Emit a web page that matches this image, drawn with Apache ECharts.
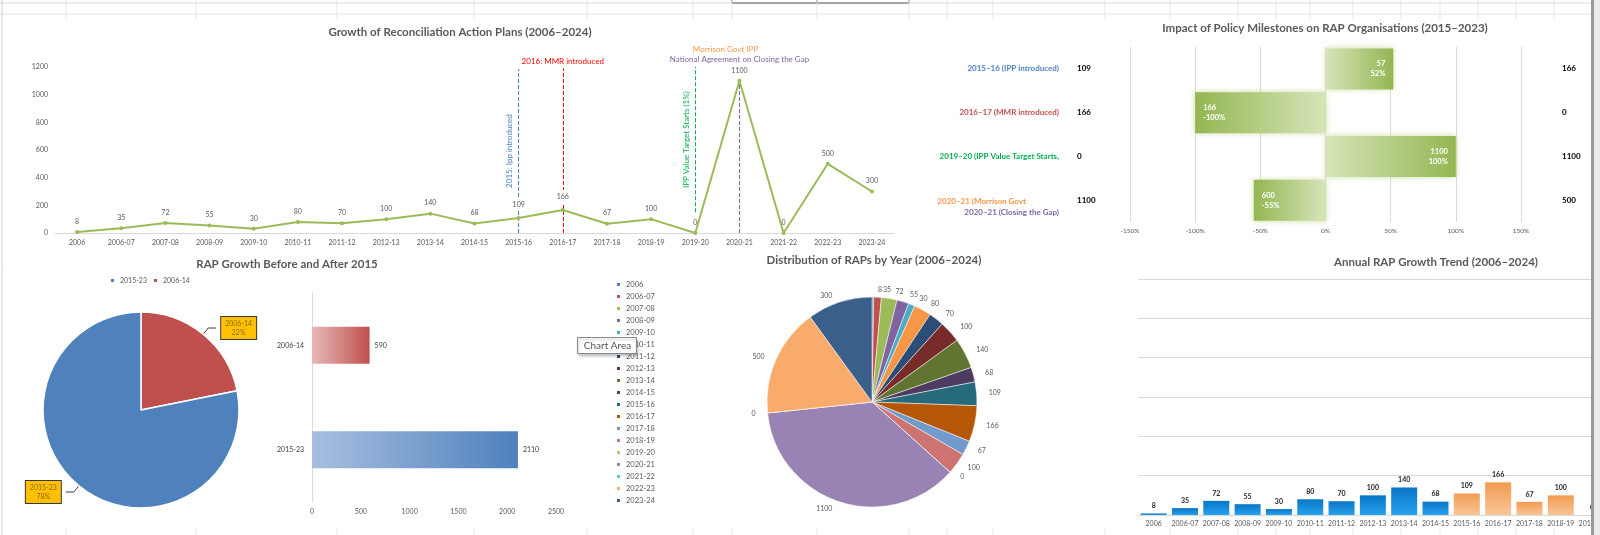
<!DOCTYPE html>
<html>
<head>
<meta charset="utf-8">
<title>RAP dashboard</title>
<script src="https://cdn.jsdelivr.net/npm/echarts@6/dist/echarts.min.js"></script>
<style>
  html, body { margin: 0; width: 1600px; height: 535px; overflow: hidden; background: #fff; }
  .layer { position: absolute; left: 0; top: 0; width: 1600px; height: 535px; }
  #trend { width: 1800px; }
  #scroll { position: absolute; left: 1591px; top: 0; width: 9px; height: 535px; background: #ececec; border-left: 3px solid #9a9a9a; box-sizing: border-box; }
</style>
</head>
<body>
<div id="sheet" class="layer"></div>
<div id="growth" class="layer"></div>
<div id="milestone" class="layer"></div>
<div id="split" class="layer"></div>
<div id="dist" class="layer"></div>
<div id="trend" class="layer"></div>
<div id="scroll"></div>
<script>
// ---- data ----
const years = ['2006','2006-07','2007-08','2008-09','2009-10','2010-11','2011-12','2012-13','2013-14','2014-15',
  '2015-16','2016-17','2017-18','2018-19','2019-20','2020-21','2021-22','2022-23','2023-24'];
const raps = [8,35,72,55,30,80,70,100,140,68,109,166,67,100,0,1100,0,500,300];

const periodNames = ['2006-14','2015-23'];
const periodTotals = [590, 2110];

const milestoneNames = ['2015–16 (IPP introduced)','2016–17 (MMR introduced)','2019–20 (IPP Value Target Starts,',
  '2020–21 (Morrison Govt\n2020–21 (Closing the Gap)'];
const rapsBefore = [109, 166, 0, 1100];
const rapsAfter = [166, 0, 1100, 500];
const rapsChange = [57, 166, 1100, 600];
const changePct = [52, -100, 100, -55];

const FONT = 'Lato, "Open Sans", sans-serif';
const GREY = '#595959';
const yearColors = ['#4F81BD','#C0504D','#9BBB59','#8064A2','#4BACC6','#F79646','#2C4D75','#772C2A','#5F7530',
  '#4D3B62','#276A7C','#B65708','#729ACA','#CD7371','#AFC97A','#9983B5','#6FBDD1','#F9AB6B','#3A5F8B'];

function plain(v) { return String(v); }

function titleOf(text, x, y) {
  return { text: text, left: x, top: y, textAlign: 'center', padding: 0,
    textStyle: { fontSize: 11.5, fontWeight: 'bold', color: GREY, fontFamily: FONT } };
}

// ---- spreadsheet background ----
const sheetCols = [66,196,337,474,587,693,732,817,909,947,993,1105,1170,1238,1276,1310,1353,1401,1440,1478,1516,1554];
const sheetEls = [
  { type: 'line', shape: { x1: 0, y1: 3, x2: 1600, y2: 3 }, style: { stroke: '#DADADA' } },
  { type: 'line', shape: { x1: 0, y1: 14, x2: 1600, y2: 14 }, style: { stroke: '#E3E3E3' } },
  { type: 'line', shape: { x1: 2, y1: 0, x2: 2, y2: 535 }, style: { stroke: '#D0D0D0' } },
  { type: 'rect', shape: { x: 732, y: -2, width: 177, height: 5 }, style: { fill: '#fff', stroke: '#555' } },
  { type: 'line', shape: { x1: 817, y1: 0, x2: 817, y2: 3 }, style: { stroke: '#555' } }
];
sheetCols.forEach(function (x) {
  sheetEls.push({ type: 'line', shape: { x1: x, y1: 0, x2: x, y2: 20 }, style: { stroke: '#E6E6E6' } });
  sheetEls.push({ type: 'line', shape: { x1: x, y1: 529, x2: x, y2: 535 }, style: { stroke: '#E6E6E6' } });
});
echarts.init(document.getElementById('sheet')).setOption({ graphic: sheetEls });

// ---- line chart ----
function vline(year, from, to, color, label) {
  return [
    { coord: [year, from], lineStyle: { color: color, type: 'dashed', width: 1 }, label: label },
    { coord: [year, to] }
  ];
}
// the milestone lines pass behind these two point labels
const maskedLabels = ['2015-16', '2016-17'];
echarts.init(document.getElementById('growth')).setOption({
  textStyle: { fontFamily: FONT },
  title: titleOf('Growth of Reconciliation Action Plans (2006–2024)', 460, 26),
  grid: { left: 55, right: 706, top: 67, bottom: 302, outerBoundsMode: 'none' },
  xAxis: {
    type: 'category', data: years,
    axisTick: { show: false },
    axisLine: { lineStyle: { color: '#D9D9D9' } },
    axisLabel: { interval: 0, fontSize: 7, color: GREY, margin: 6 }
  },
  yAxis: {
    type: 'value', min: 0, max: 1200, interval: 200,
    splitLine: { show: false },
    axisLabel: { fontSize: 7, color: GREY, margin: 7, formatter: plain }
  },
  series: [{
    type: 'line',
    data: raps.map(function (v, i) {
      return maskedLabels.indexOf(years[i]) >= 0
        ? { value: v, label: { backgroundColor: '#fff', padding: [3, 1] } }
        : v;
    }),
    symbol: 'circle', symbolSize: 4,
    lineStyle: { color: '#9BBB59', width: 2 },
    itemStyle: { color: '#9BBB59' },
    label: { show: true, position: 'top', distance: 5, fontSize: 7, color: GREY },
    markLine: {
      symbol: 'none', silent: true, z: 1,
      data: [
        vline('2015-16', 0, 1185, '#4F81BD',
          { show: true, position: 'insideMiddleTop', formatter: '2015: Ipp introduced', color: '#4F81BD', fontSize: 8 }),
        vline('2016-17', 0, 1190, '#FF0000',
          { show: true, position: 'end', formatter: '2016: MMR introduced', color: '#FF0000', fontSize: 8, distance: 3 }),
        vline('2019-20', 150, 1200, '#00B050',
          { show: true, position: 'insideMiddleTop', formatter: 'IPP Value Target Starts (1%)', color: '#00B050', fontSize: 8 }),
        vline('2020-21', 0, 1100, '#8064A2',
          { show: true, position: 'end', distance: 16,
            formatter: '{o|Morrison Govt IPP}{og|}\n{p|National Agreement on Closing the Gap}',
            rich: {
              o: { color: '#F79646', fontSize: 8, lineHeight: 10 },
              og: { width: 28, lineHeight: 10 },
              p: { color: '#8064A2', fontSize: 8, lineHeight: 10 }
            } })
      ]
    }
  }]
});

// ---- policy milestone bars ----
function greenBar(pct) {
  const light = '#D6E5B9', dark = '#94B652';
  const stops = pct >= 0
    ? [{ offset: 0, color: light }, { offset: 1, color: dark }]
    : [{ offset: 0, color: dark }, { offset: 1, color: light }];
  return new echarts.graphic.LinearGradient(0, 0, 1, 0, stops);
}
echarts.init(document.getElementById('milestone')).setOption({
  textStyle: { fontFamily: FONT },
  title: titleOf('Impact of Policy Milestones on RAP Organisations (2015–2023)', 1325, 22),
  grid: { left: 1130, right: 79, top: 47, bottom: 313, outerBoundsMode: 'none' },
  xAxis: {
    type: 'value', min: -150, max: 150, interval: 50,
    axisLine: { show: false },
    splitLine: { lineStyle: { color: '#D9D9D9' } },
    axisLabel: { formatter: '{value}%', fontSize: 6.5, color: GREY, margin: 5 }
  },
  yAxis: [
    {
      type: 'category', data: milestoneNames, inverse: true,
      axisLine: { show: false }, axisTick: { show: false },
      axisLabel: {
        margin: 71,
        formatter: function (v, i) {
          if (i === 3) {
            const parts = v.split('\n');
            return '{sp|}\n{o|' + parts[0] + '}{og|}\n{p|' + parts[1] + '}';
          }
          return '{c' + i + '|' + v + '}';
        },
        rich: {
          c0: { color: '#4F81BD', fontSize: 8, fontWeight: 'bold' },
          c1: { color: '#C0504D', fontSize: 8, fontWeight: 'bold' },
          c2: { color: '#00B050', fontSize: 8, fontWeight: 'bold' },
          sp: { lineHeight: 14, height: 14 },
          o: { color: '#F79646', fontSize: 8, fontWeight: 'bold', lineHeight: 11 },
          og: { width: 33, lineHeight: 11 },
          p: { color: '#8064A2', fontSize: 8, fontWeight: 'bold', lineHeight: 11 }
        }
      }
    },
    {
      type: 'category', data: rapsBefore.map(String), inverse: true, position: 'left',
      axisLine: { show: false }, axisTick: { show: false },
      axisLabel: { align: 'left', margin: 53, fontSize: 8, fontWeight: 'bold', color: '#000' }
    },
    {
      type: 'category', data: rapsAfter.map(String), inverse: true, position: 'right',
      axisLine: { show: false }, axisTick: { show: false },
      axisLabel: { align: 'left', margin: 41, fontSize: 8, fontWeight: 'bold', color: '#000' }
    }
  ],
  series: [{
    type: 'bar', yAxisIndex: 0, barWidth: 41,
    data: changePct.map(function (p) {
      return {
        value: p,
        itemStyle: { color: greenBar(p), shadowBlur: 6, shadowColor: 'rgba(190,215,140,0.8)' },
        label: { position: p >= 0 ? 'insideRight' : 'insideLeft' }
      };
    }),
    label: {
      show: true, distance: 8, color: '#fff', fontSize: 7.5, fontWeight: 'bold', lineHeight: 10,
      formatter: function (p) { return rapsChange[p.dataIndex] + '\n' + p.value + '%'; }
    }
  }]
});

// ---- before / after 2015 ----
const periodColors = { '2006-14': ['#E6B9B8', '#C0504D'], '2015-23': ['#A7BFDF', '#4F81BD'] };
echarts.init(document.getElementById('split')).setOption({
  textStyle: { fontFamily: FONT },
  title: titleOf('RAP Growth Before and After 2015', 287, 258),
  legend: {
    data: ['2015-23', '2006-14'], left: 109, top: 277, padding: 0,
    icon: 'rect', itemWidth: 5, itemHeight: 5, itemGap: 5,
    textStyle: { fontSize: 7, color: GREY }
  },
  grid: { left: 312, right: 1044, top: 293, bottom: 33, outerBoundsMode: 'none' },
  xAxis: {
    type: 'value', min: 0, max: 2500, interval: 500,
    axisLine: { show: false }, splitLine: { show: false },
    axisLabel: { fontSize: 7, color: GREY, margin: 6, formatter: plain }
  },
  yAxis: {
    type: 'category', data: periodNames, inverse: true,
    axisTick: { show: false },
    axisLine: { lineStyle: { color: '#D9D9D9' } },
    axisLabel: { fontSize: 7, color: '#404040', margin: 8 }
  },
  series: [
    {
      type: 'pie', center: [141, 410], radius: 98, startAngle: 90, clockwise: true,
      color: ['#C0504D', '#4F81BD'],
      data: periodNames.map(function (n, i) { return { name: n, value: periodTotals[i] }; }),
      itemStyle: { borderColor: '#fff', borderWidth: 1.5 },
      label: {
        position: 'outside',
        backgroundColor: '#FFC000', borderColor: '#3A3A3A', borderWidth: 1, padding: [2, 4],
        formatter: function (p) { return '{t|' + p.name + '}\n{t|' + Math.round(p.percent) + '%}'; },
        rich: { t: { fontSize: 7, lineHeight: 9, color: '#8C6D1F', align: 'center' } }
      },
      labelLine: { show: true, length: 8, length2: 8, lineStyle: { color: '#3A3A3A', width: 1 } }
    },
    {
      type: 'bar', barWidth: 37,
      data: periodNames.map(function (n, i) {
        return {
          value: periodTotals[i],
          itemStyle: {
            color: new echarts.graphic.LinearGradient(0, 0, 1, 0,
              [{ offset: 0, color: periodColors[n][0] }, { offset: 1, color: periodColors[n][1] }])
          }
        };
      }),
      label: { show: true, position: 'right', distance: 5, fontSize: 7, color: '#404040' }
    }
  ]
});

// ---- distribution pie ----
echarts.init(document.getElementById('dist')).setOption({
  textStyle: { fontFamily: FONT },
  title: titleOf('Distribution of RAPs by Year (2006–2024)', 874, 254),
  legend: {
    orient: 'vertical', left: 615, top: 280, padding: 0,
    icon: 'rect', itemWidth: 5, itemHeight: 5, itemGap: 3,
    textStyle: { fontSize: 7.5, color: GREY, lineHeight: 9 },
    data: years
  },
  series: [{
    type: 'pie', center: [872, 402], radius: 105, startAngle: 90, clockwise: true,
    avoidLabelOverlap: false,
    color: yearColors,
    data: years.map(function (y, i) { return { name: y, value: raps[i] }; }),
    itemStyle: { borderColor: '#fff', borderWidth: 0.5 },
    label: { position: 'outside', fontSize: 7, color: GREY, formatter: '{c}' },
    labelLine: { show: false, length: 7, length2: 0 }
  }],
  graphic: [{
    type: 'group', left: 577, top: 337, z: 100,
    children: [
      { type: 'rect', z: 100, shape: { x: 0, y: 0, width: 59, height: 16 },
        style: { fill: '#fff', stroke: '#8A8A8A', lineWidth: 1, shadowBlur: 3, shadowOffsetX: 1, shadowOffsetY: 2, shadowColor: 'rgba(0,0,0,0.25)' } },
      { type: 'text', z: 101, x: 30, y: 8,
        style: { text: 'Chart Area', fill: '#555', fontSize: 10, fontFamily: FONT, align: 'center', verticalAlign: 'middle' } }
    ]
  }]
});

// ---- annual trend bars (chart runs past the window edge) ----
const blueBar = new echarts.graphic.LinearGradient(0, 0, 0, 1, [{ offset: 0, color: '#0A75C6' }, { offset: 1, color: '#27A2EE' }]);
const orangeBar = new echarts.graphic.LinearGradient(0, 0, 0, 1, [{ offset: 0, color: '#F29B50' }, { offset: 1, color: '#F8C598' }]);
echarts.init(document.getElementById('trend')).setOption({
  textStyle: { fontFamily: FONT },
  title: titleOf('Annual RAP Growth Trend (2006–2024)', 1436, 256),
  grid: { left: 1138, right: 67, top: 279, bottom: 20, outerBoundsMode: 'none' },
  xAxis: {
    type: 'category', data: years,
    axisTick: { show: false },
    axisLine: { lineStyle: { color: '#D9D9D9' } },
    axisLabel: { interval: 0, fontSize: 7, color: GREY, margin: 5 }
  },
  yAxis: {
    type: 'value', min: 0, max: 1200, interval: 200,
    axisLabel: { show: false },
    splitLine: { lineStyle: { color: '#D9D9D9' } }
  },
  series: [{
    type: 'bar', barWidth: 26,
    data: raps.map(function (v, i) {
      return { value: v, itemStyle: { color: i >= 10 ? orangeBar : blueBar } };
    }),
    label: { show: true, position: 'top', distance: 4, fontSize: 7, fontWeight: 'bold', color: '#262626' }
  }]
});
</script>
</body>
</html>
